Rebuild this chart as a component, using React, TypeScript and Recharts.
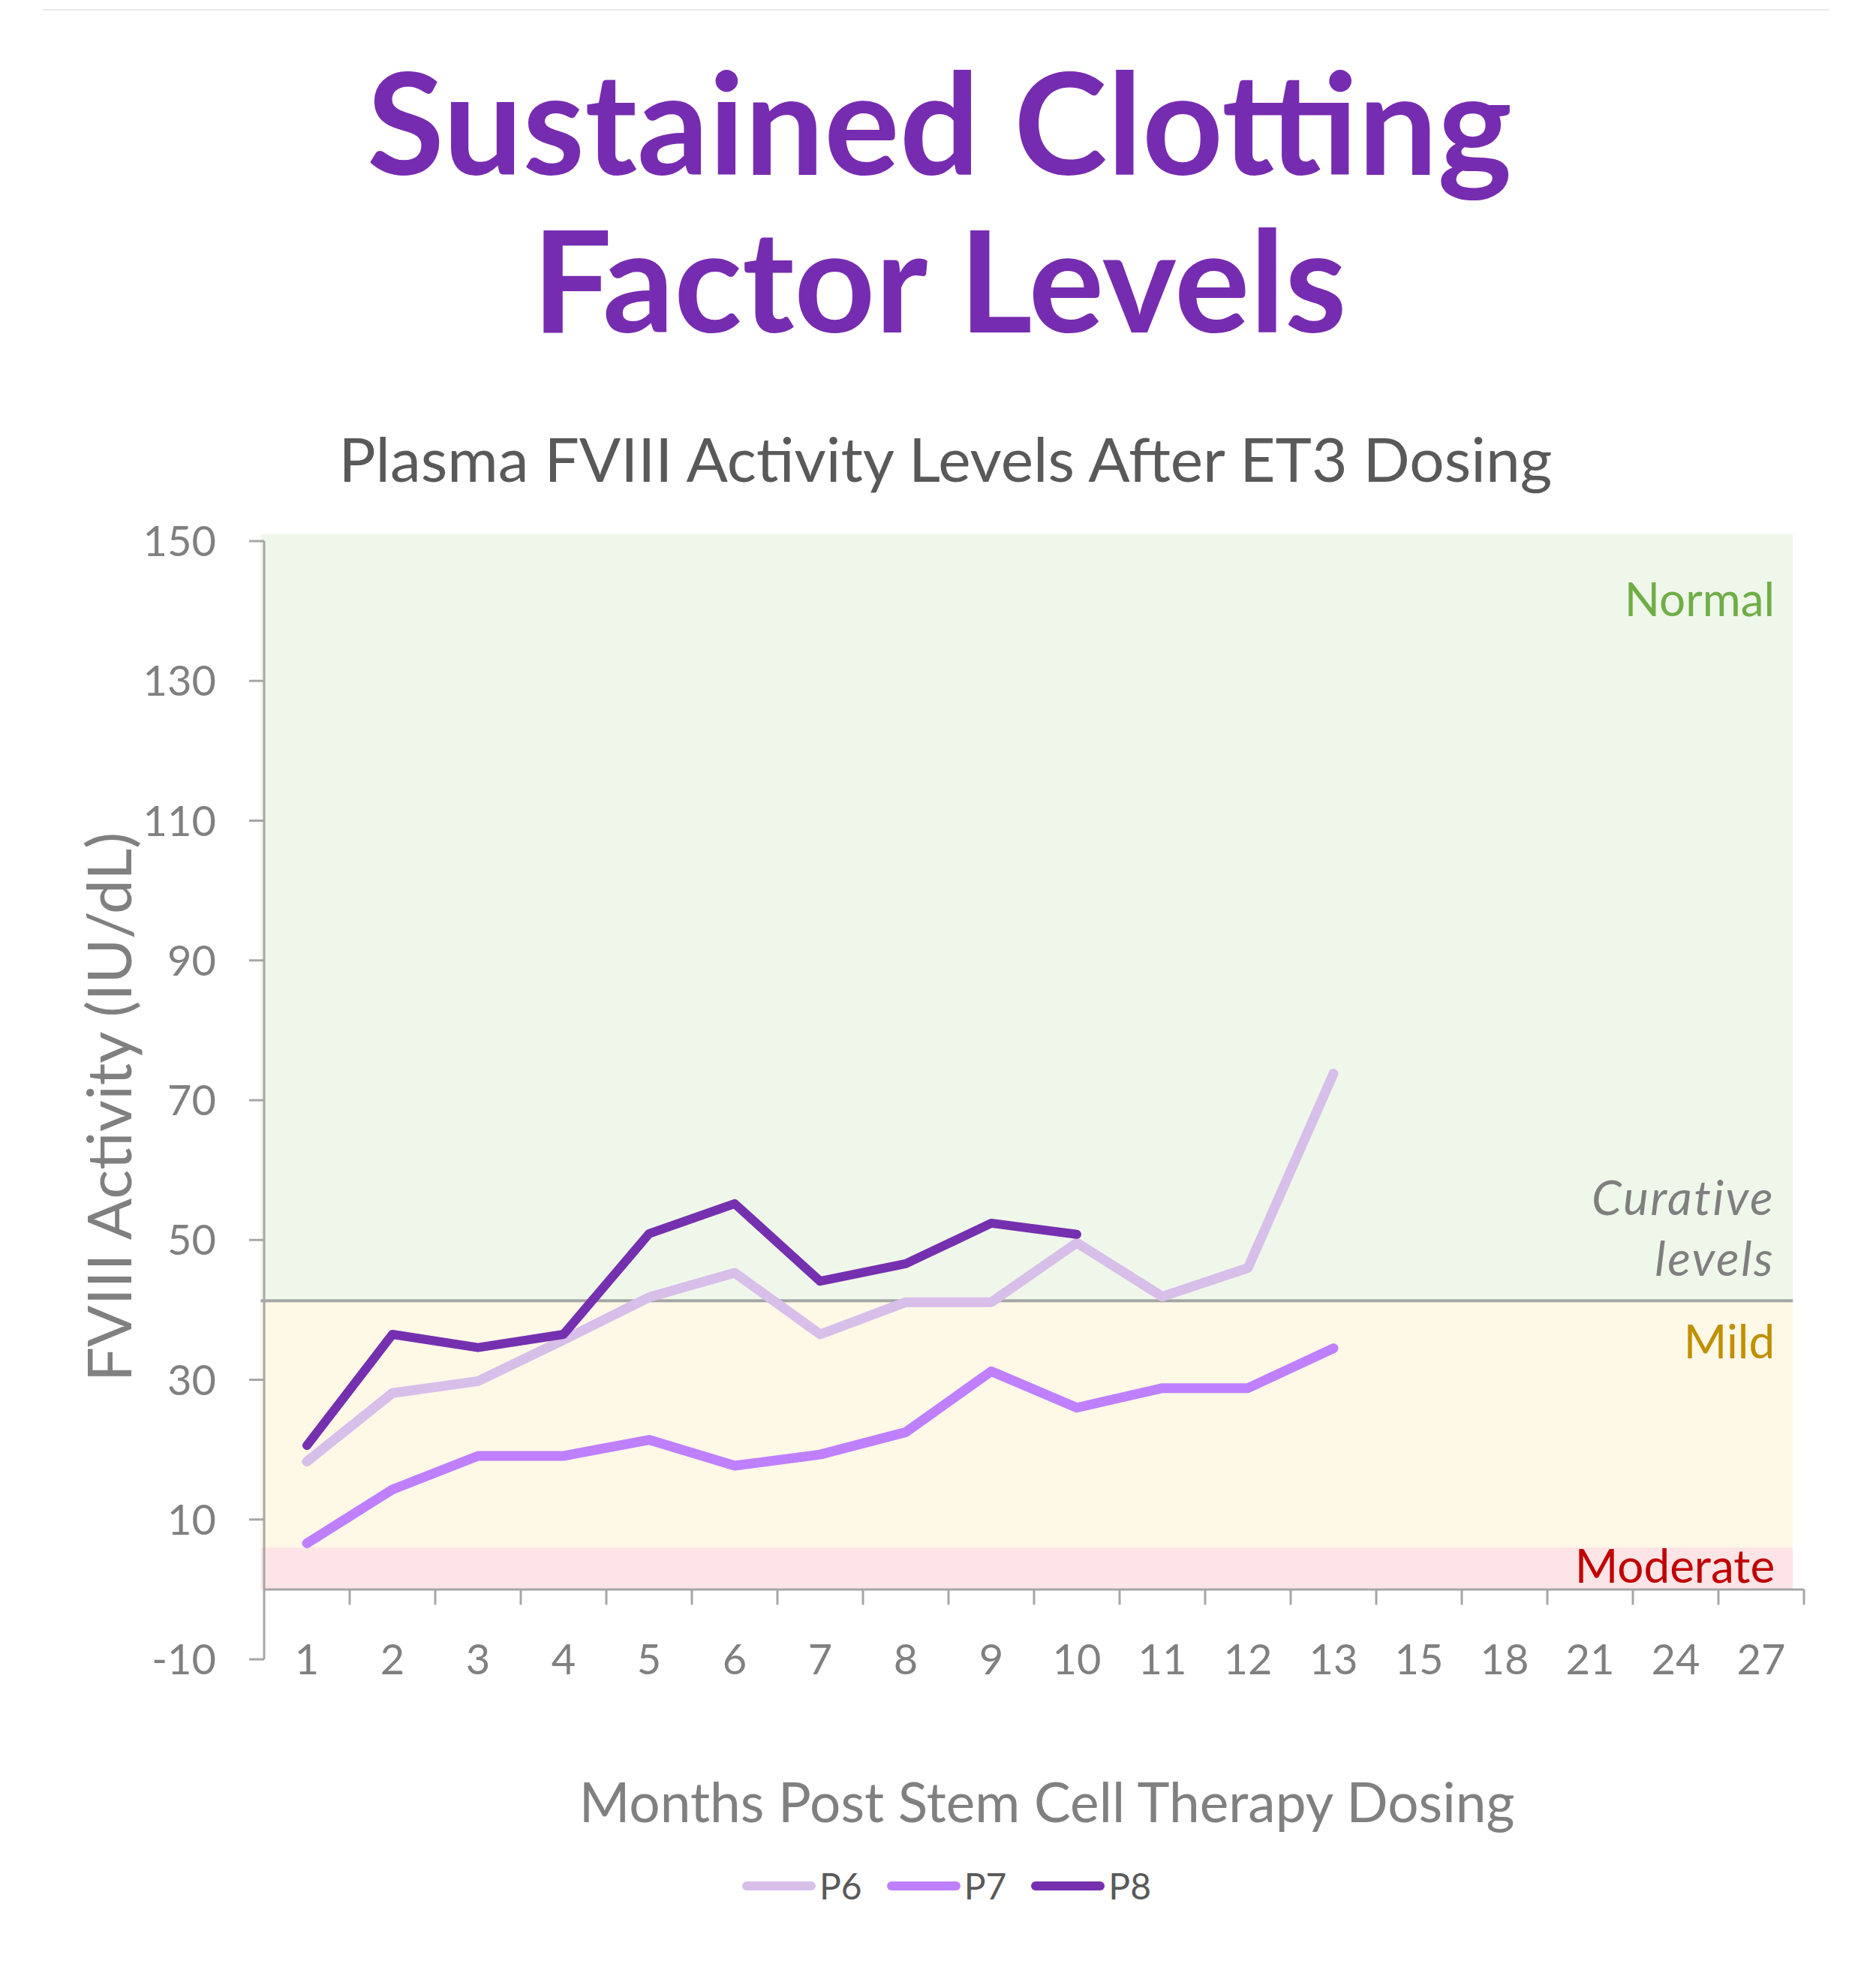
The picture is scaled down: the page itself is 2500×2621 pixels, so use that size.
import React from 'react';
import { LineChart, Line, XAxis, YAxis, ReferenceArea, ReferenceLine, Legend, Label } from 'recharts';

// ---------- data ----------
const months = ['1', '2', '3', '4', '5', '6', '7', '8', '9', '10', '11', '12', '13', '15', '18', '21', '24', '27'];
const p6 = [18.3, 28.1, 29.8, 35.7, 41.8, 45.3, 36.5, 41.1, 41.1, 49.6, 41.9, 46.0, 73.8, null, null, null, null, null];
const p7 = [6.6, 14.3, 19.1, 19.1, 21.4, 17.7, 19.3, 22.5, 31.2, 26.0, 28.8, 28.8, 34.5, null, null, null, null, null];
const p8 = [20.6, 36.5, 34.6, 36.5, 50.9, 55.2, 44.1, 46.6, 52.4, 50.8, null, null, null, null, null, null, null, null];
const yTicks = [-10, 10, 30, 50, 70, 90, 110, 130, 150];
const seriesNames = ['P6', 'P7', 'P8'];
const seriesColors = ['#D7BFEA', '#BF80FF', '#7530AF'];
const bandNormal = [41.3, 151];
const bandMild = [6, 41.3];
const bandModerate = [0, 6];
const curativeLevel = 41.3;

const data = months.map((m, i) => ({ idx: i + 1, month: m, P6: p6[i], P7: p7[i], P8: p8[i] }));
const xTicks = months.map((_, i) => i + 1);
const boundaries = months.map((_, i) => i + 1.5);

const FONT = 'Lato, Calibri, "Open Sans", sans-serif';
const AXIS = '#A6A6A6';
const TICKTXT = '#808080';

const XTick = (props: any) => {
  const { x, y, payload } = props;
  return (
    <text x={x} y={y} dy="0.36em" textAnchor="middle" fill={TICKTXT} fontSize={56} fontFamily={FONT}>
      {months[payload.value - 1]}
    </text>
  );
};

const YTick = (props: any) => {
  const { x, y, payload } = props;
  return (
    <text x={x} y={y} dy="0.36em" textAnchor="end" fill={TICKTXT} fontSize={56} fontFamily={FONT}>
      {payload.value}
    </text>
  );
};

const YTitle = (props: any) => {
  const vb = props.viewBox || { x: 0, y: 0, width: 0, height: 0 };
  const cx = vb.x + 143;
  const cy = vb.y + vb.height / 2 + 9;
  return (
    <text x={cx} y={cy} transform={`rotate(-90, ${cx}, ${cy})`} textAnchor="middle" dominantBaseline="central"
      fill={TICKTXT} fontSize={82} fontFamily={FONT}>
      FVIII Activity (IU/dL)
    </text>
  );
};

const bandText = (lines: { text: string; fromTop: number }[], color: string, italic = false) =>
  (props: any) => {
    const vb = props.viewBox || { x: 0, y: 0, width: 0, height: 0 };
    const rx = vb.x + vb.width - 24;
    return (
      <g>
        {lines.map((l, i) => (
          <text key={i} x={rx} y={vb.y + l.fromTop}
            textAnchor="end" fill={color} fontSize={italic ? 64 : 62} fontFamily={FONT}
            fontStyle={italic ? 'italic' : 'normal'} letterSpacing={italic ? 2.5 : 0}>
            {l.text}
          </text>
        ))}
      </g>
    );
  };

const renderLegend = (props: any) => {
  const payload = props.payload || [];
  return (
    <div style={{ display: 'flex', justifyContent: 'center', alignItems: 'center', paddingLeft: 22 }}>
      {payload.map((e: any, i: number) => (
        <div key={e.value} style={{ display: 'flex', alignItems: 'center', marginLeft: i === 0 ? 0 : 32 }}>
          <svg width={100} height={16}>
            <line x1={7} y1={8} x2={93} y2={8} stroke={e.color} strokeWidth={12} strokeLinecap="round" />
          </svg>
          <span style={{ fontSize: 48, color: '#595959', fontFamily: FONT, marginLeft: 4, lineHeight: '58px' }}>{e.value}</span>
        </div>
      ))}
    </div>
  );
};

export default function App() {
  return (
    <div style={{ position: 'absolute', left: 0, top: 0, width: 2500, height: 2621, background: '#fff', overflow: 'hidden' }}>
      <div style={{ position: 'absolute', left: 57, top: 12, width: 2380, height: 2, background: '#E8E8E8' }} />
      <div style={{
        position: 'absolute', left: 0, top: 55, width: 2504, textAlign: 'center', fontFamily: FONT, fontWeight: 700,
        fontSize: 188, lineHeight: '210px', color: '#762CB0',
      }}>
        Sustained Clotting<br />Factor Levels
      </div>
      <div style={{
        position: 'absolute', left: 0, top: 562, width: 2520, textAlign: 'center', fontFamily: FONT,
        fontSize: 82, lineHeight: '96px', color: '#595959', whiteSpace: 'nowrap',
      }}>
        Plasma FVIII Activity Levels After ET3 Dosing
      </div>
      <div style={{
        position: 'absolute', left: 0, top: 2355, width: 2790, textAlign: 'center', fontFamily: FONT,
        fontSize: 73, lineHeight: '90px', color: TICKTXT, whiteSpace: 'nowrap',
      }}>
        Months Post Stem Cell Therapy Dosing
      </div>
      <LineChart width={2500} height={2621} data={data} margin={{ top: 721, right: 96, bottom: 350, left: 0 }}>
        <ReferenceArea x1={0.46} x2={18.37} y1={bandNormal[0]} y2={bandNormal[1]} fill="#EFF7EA" fillOpacity={1}
          stroke="none" ifOverflow="visible"
          label={<Label content={bandText([{ text: 'Normal', fromTop: 109 }], '#70AD47')} />} />
        <ReferenceArea x1={0.46} x2={18.37} y1={bandMild[0]} y2={bandMild[1]} fill="#FEF8E7" fillOpacity={1}
          stroke="none" ifOverflow="visible"
          label={<Label content={bandText([{ text: 'Mild', fromTop: 77 }], '#BF9000')} />} />
        <ReferenceArea x1={0.46} x2={18.37} y1={bandModerate[0]} y2={bandModerate[1]} fill="#FDE4E6" fillOpacity={1}
          stroke="none" ifOverflow="visible"
          label={<Label content={bandText([{ text: 'Moderate', fromTop: 47 }], '#C00000')} />} />
        <ReferenceArea x1={0.46} x2={18.37} y1={curativeLevel} y2={curativeLevel + 0.01} fill="none" stroke="none"
          ifOverflow="visible"
          label={<Label content={bandText([{ text: 'Curative', fromTop: -114 }, { text: 'levels', fromTop: -33 }], '#7F7F7F', true)} />} />
        <XAxis type="number" dataKey="idx" domain={[0.5, 18.5]} ticks={xTicks} allowDataOverflow
          axisLine={false} tickLine={false} tickSize={0} tickMargin={0} height={60} tick={<XTick />} interval={0} />
        <YAxis type="number" domain={[-10, 150]} ticks={yTicks} width={352} allowDataOverflow
          axisLine={{ stroke: AXIS, strokeWidth: 3 }} tickLine={{ stroke: AXIS, strokeWidth: 3 }}
          tickSize={20} tickMargin={44} tick={<YTick />} interval={0}
          label={<Label content={<YTitle />} />} />
        <ReferenceLine segment={[{ x: 0.46, y: curativeLevel }, { x: 18.37, y: curativeLevel }]} stroke={AXIS}
          strokeWidth={4} ifOverflow="visible" />
        <Line type="linear" dataKey="P6" name={seriesNames[0]} stroke={seriesColors[0]} strokeWidth={13} dot={false}
          activeDot={false} strokeLinecap="round" strokeLinejoin="round" isAnimationActive={false} />
        <Line type="linear" dataKey="P7" name={seriesNames[1]} stroke={seriesColors[1]} strokeWidth={13} dot={false}
          activeDot={false} strokeLinecap="round" strokeLinejoin="round" isAnimationActive={false} />
        <Line type="linear" dataKey="P8" name={seriesNames[2]} stroke={seriesColors[2]} strokeWidth={12} dot={false}
          activeDot={false} strokeLinecap="round" strokeLinejoin="round" isAnimationActive={false} />
        <ReferenceLine y={0} stroke={AXIS} strokeWidth={3} ifOverflow="visible" />
        {boundaries.map((b) => (
          <ReferenceLine key={b} segment={[{ x: b, y: 0 }, { x: b, y: -2.2 }]} stroke={AXIS} strokeWidth={3}
            ifOverflow="visible" />
        ))}
        <Legend layout="horizontal" verticalAlign="middle" align="center" content={renderLegend}
          wrapperStyle={{ position: 'absolute', top: 2484, left: 0, width: 2500 }} />
      </LineChart>
    </div>
  );
}
